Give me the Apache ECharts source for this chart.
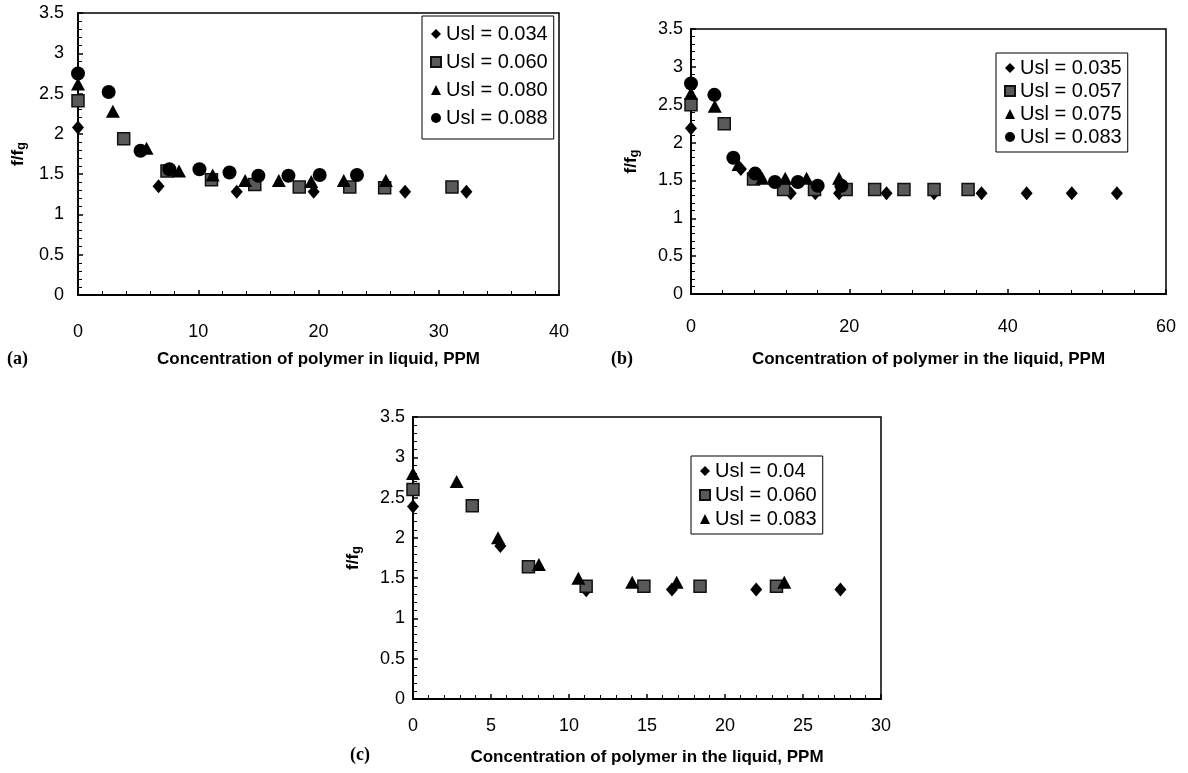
<!DOCTYPE html>
<html>
<head>
<meta charset="utf-8">
<script src="https://cdn.jsdelivr.net/npm/echarts@6/dist/echarts.min.js"></script>
<style>
  body { margin: 0; background: #fff; }
  .panel { position: absolute; }
</style>
</head>
<body>
<div id="pa" class="panel" style="left:0;top:0;width:594px;height:386px"></div>
<div id="pb" class="panel" style="left:594px;top:0;width:594px;height:386px"></div>
<div id="pc" class="panel" style="left:300px;top:390px;width:600px;height:383px"></div>
<script>
// (a) Concentration of polymer in liquid, PPM  ->  f/fg
var a_usl034 = [[0,2.08],[6.7,1.35],[13.2,1.28],[19.6,1.28],[27.2,1.28],[32.3,1.28]];
var a_usl060 = [[0,2.41],[3.8,1.94],[7.4,1.54],[11.1,1.43],[14.7,1.37],[18.4,1.34],[22.6,1.34],[25.5,1.33],[31.1,1.34]];
var a_usl080 = [[0,2.62],[2.9,2.28],[5.7,1.82],[8.4,1.54],[11.2,1.49],[13.9,1.42],[16.7,1.42],[19.4,1.41],[22.1,1.42],[25.6,1.42]];
var a_usl088 = [[0,2.75],[2.55,2.52],[5.2,1.79],[7.6,1.56],[10.1,1.56],[12.6,1.52],[15.0,1.48],[17.5,1.48],[20.1,1.49],[23.2,1.49]];

// (b)
var b_usl035 = [[0,2.19],[6.3,1.65],[12.6,1.33],[15.7,1.33],[18.7,1.33],[24.7,1.33],[30.7,1.33],[36.7,1.33],[42.4,1.33],[48.1,1.33],[53.8,1.33]];
var b_usl057 = [[0,2.5],[4.2,2.25],[7.9,1.52],[11.7,1.38],[15.6,1.38],[19.6,1.38],[23.2,1.38],[26.9,1.38],[30.7,1.38],[35.0,1.38]];
var b_usl075 = [[0,2.65],[3.0,2.48],[6.0,1.71],[9.0,1.53],[11.9,1.53],[14.6,1.53],[18.7,1.53]];
var b_usl083 = [[0,2.78],[2.95,2.63],[5.35,1.8],[8.1,1.59],[10.6,1.48],[13.5,1.48],[16.0,1.43],[19.0,1.43]];

// (c)
var c_usl04  = [[0,2.39],[5.6,1.9],[11.1,1.35],[16.6,1.36],[22.0,1.36],[27.4,1.36]];
var c_usl060 = [[0,2.6],[3.8,2.4],[7.4,1.64],[11.1,1.4],[14.8,1.4],[18.4,1.4],[23.3,1.4]];
var c_usl083 = [[0,2.8],[2.8,2.7],[5.45,2.0],[8.07,1.67],[10.6,1.5],[14.05,1.45],[16.9,1.45],[23.8,1.45]];

var FONT = '"Liberation Sans", Arial, sans-serif';

// marker styles
var marks = {
    diamond:  { symbol: 'diamond',  symbolSize: [12, 14], itemStyle: { color: '#000', opacity: 1 } },
    rect:     { symbol: 'rect',     symbolSize: 12,       itemStyle: { color: '#595959', borderColor: '#111', borderWidth: 1.5, opacity: 1 } },
    triangle: { symbol: 'triangle', symbolSize: [14, 13], itemStyle: { color: '#000', opacity: 1 } },
    circle:   { symbol: 'circle',   symbolSize: 14,       itemStyle: { color: '#000', opacity: 1 } }
};

function makeSeries(name, data, kind) {
    var m = marks[kind];
    return {
        name: name,
        type: 'scatter',
        data: data,
        symbol: m.symbol,
        symbolSize: m.symbolSize,
        itemStyle: m.itemStyle,
        clip: false,
        z: 3
    };
}

function makeOption(p) {
    return {
        animation: false,
        textStyle: { fontFamily: FONT },
        grid: {
            left: p.grid[0], top: p.grid[1], width: p.grid[2], height: p.grid[3],
            show: true, borderColor: '#000', borderWidth: 1.5
        },
        legend: {
            orient: 'vertical',
            left: p.legend[0], top: p.legend[1],
            padding: p.legendPad,
            itemGap: p.legendGap,
            itemWidth: 10, itemHeight: 10,
            borderColor: '#000', borderWidth: 1,
            backgroundColor: '#fff',
            textStyle: { fontSize: 20, color: '#000', fontFamily: FONT },
            data: p.series.map(function (s) { return s.name; })
        },
        xAxis: {
            type: 'value',
            min: 0, max: p.xMax, interval: p.xInt,
            name: p.xName,
            nameLocation: 'middle',
            nameGap: p.xNameGap,
            nameTextStyle: { fontSize: 17, fontWeight: 'bold', color: '#000', fontFamily: FONT },
            axisLine: { lineStyle: { color: '#000', width: 2 } },
            axisTick: { inside: true, length: 5, lineStyle: { color: '#000', width: 1.5 } },
            minorTick: { show: true, splitNumber: 5, length: 4, lineStyle: { color: '#000', width: 1 } },
            axisLabel: { fontSize: 18, color: '#000', margin: p.xLabelMargin },
            splitLine: { show: false }
        },
        yAxis: {
            type: 'value',
            min: 0, max: 3.5, interval: 0.5,
            name: '{n|f/f}{s|g}',
            nameLocation: 'middle',
            nameGap: p.yNameGap,
            nameTextStyle: {
                rich: {
                    n: { fontSize: 17, fontWeight: 'bold', color: '#000', fontFamily: FONT },
                    s: { fontSize: 13, fontWeight: 'bold', color: '#000', fontFamily: FONT, verticalAlign: 'bottom', padding: [7, 0, 0, 0] }
                }
            },
            axisLine: { show: true, lineStyle: { color: '#000', width: 2 } },
            axisTick: { show: true, inside: true, length: 5, lineStyle: { color: '#000', width: 1.5 } },
            minorTick: { show: true, splitNumber: 5, length: 4, lineStyle: { color: '#000', width: 1 } },
            axisLabel: { fontSize: 18, color: '#000', margin: p.yLabelMargin },
            splitLine: { show: false }
        },
        graphic: [{
            type: 'text',
            left: p.tag[0], top: p.tag[1],
            style: { text: p.tagText, font: 'bold 18px "Liberation Serif", serif', fill: '#000' }
        }],
        series: p.series
    };
}

var chartA = echarts.init(document.getElementById('pa'));
chartA.setOption(makeOption({
    grid: [78, 13, 481, 282],
    legend: [422, 16], legendPad: [8, 6, 11, 8], legendGap: 8,
    xMax: 40, xInt: 10, xName: 'Concentration of polymer in liquid, PPM',
    xNameGap: 56, xLabelMargin: 28, yNameGap: 46, yLabelMargin: 14,
    tag: [7, 350], tagText: '(a)',
    series: [
        makeSeries('Usl = 0.034', a_usl034, 'diamond'),
        makeSeries('Usl = 0.060', a_usl060, 'rect'),
        makeSeries('Usl = 0.080', a_usl080, 'triangle'),
        makeSeries('Usl = 0.088', a_usl088, 'circle')
    ]
}));

var chartB = echarts.init(document.getElementById('pb'));
chartB.setOption(makeOption({
    grid: [97, 29, 475, 265],
    legend: [402, 53], legendPad: [5, 6, 5, 8], legendGap: 3,
    xMax: 60, xInt: 20, xName: 'Concentration of polymer in the liquid, PPM',
    xNameGap: 57, xLabelMargin: 24, yNameGap: 50, yLabelMargin: 8,
    tag: [17, 350], tagText: '(b)',
    series: [
        makeSeries('Usl = 0.035', b_usl035, 'diamond'),
        makeSeries('Usl = 0.057', b_usl057, 'rect'),
        makeSeries('Usl = 0.075', b_usl075, 'triangle'),
        makeSeries('Usl = 0.083', b_usl083, 'circle')
    ]
}));

var chartC = echarts.init(document.getElementById('pc'));
chartC.setOption(makeOption({
    grid: [113, 27, 468, 282],
    legend: [391, 66], legendPad: [5, 6, 5, 8], legendGap: 4,
    xMax: 30, xInt: 5, xName: 'Concentration of polymer in the liquid, PPM',
    xNameGap: 50, xLabelMargin: 18, yNameGap: 50, yLabelMargin: 8,
    tag: [50, 356], tagText: '(c)',
    series: [
        makeSeries('Usl = 0.04', c_usl04, 'diamond'),
        makeSeries('Usl = 0.060', c_usl060, 'rect'),
        makeSeries('Usl = 0.083', c_usl083, 'triangle')
    ]
}));
</script>
</body>
</html>
